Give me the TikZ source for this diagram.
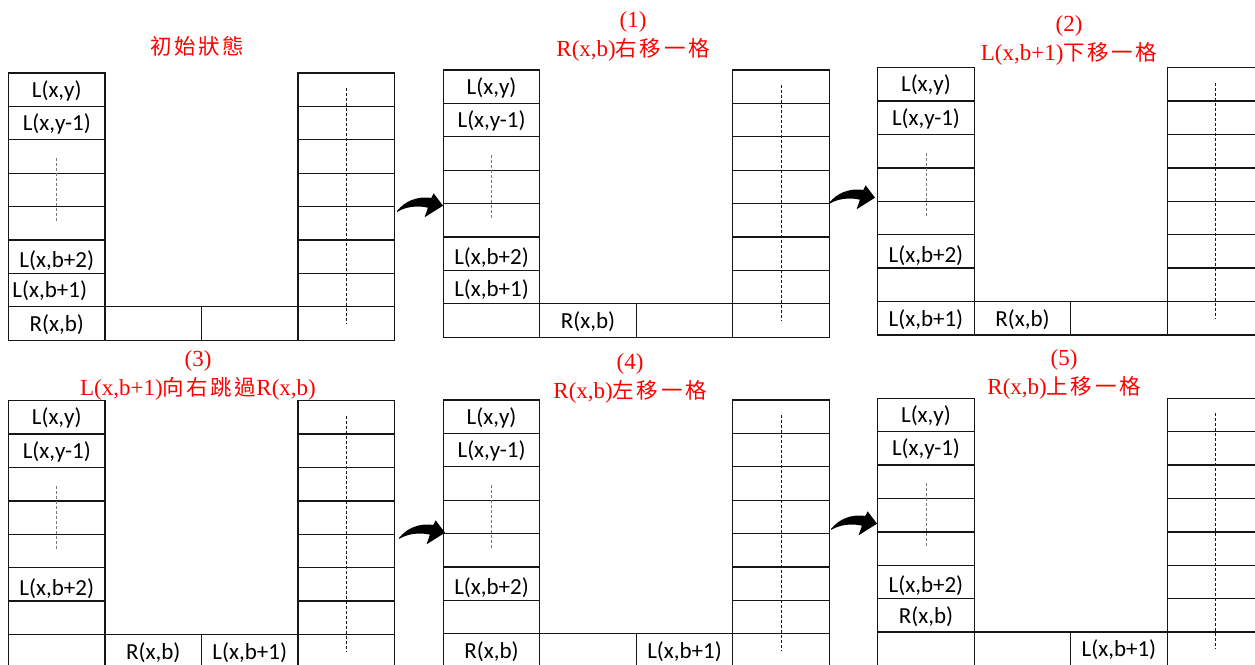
\documentclass[tikz,border=0pt]{standalone}
\usepackage{fontspec}
\newfontfamily\cellfont{Carlito}
\newfontfamily\capfont{Liberation Serif}
\newfontfamily\cjk[LetterSpace=12]{Noto Sans CJK TC}
\newcommand{\zh}[1]{{\cjk\fontsize{21.5}{29}\selectfont #1}}
\usetikzlibrary{positioning, calc}
\definecolor{stepred}{HTML}{FF0000}
\definecolor{gridline}{HTML}{161616}
\definecolor{dotgray}{HTML}{7A7A7A}
\tikzset{
  cell/.style={
    draw=gridline, line width=1.3pt, minimum width=96.5pt,
    minimum height=33.4pt, inner sep=0pt, outer sep=0pt
  },
  lbl/.style={font=\cellfont\fontsize{23}{25}\selectfont, inner sep=0pt, yshift=-1pt},
  steptitle/.style={font=\capfont\fontsize{23}{29}\selectfont, text=stepred, align=center, inner sep=0pt},
  gap/.style={dash pattern=on 3pt off 2pt, line width=0.8pt, draw=dotgray},
  gapr/.style={dash pattern=on 3pt off 2pt, line width=0.8pt, draw=gridline},
  bendarrow/.pic={
    \fill (0,0) .. controls (8,-10) and (20,-15) .. (34.3,-13.1)
      -- (36.6,-17.7) -- (46,-5.3) -- (27.6,6.3) -- (30.9,-3.3)
      .. controls (20,-6) and (8,-4) .. (0,1) -- cycle;
  },
}

\begin{document}
\begin{tikzpicture}[x=1pt, y=-1pt]
  \useasboundingbox (0,0) rectangle (1255,664);
  \clip (0,0) rectangle (1255,664);

  % Panels: number / left edge / top edge
  \foreach \n/\px/\py in {0/8.5/73, 1/443.3/70, 2/877.7/67.7,
                          3/8.5/400.7, 4/443.3/400, 5/877.7/398.3} {
    \foreach \r in {0,...,7} {
      \node[cell] (p\n-l\r) at (\px+48.25, \py+16.7+33.4*\r) {};
      \node[cell] (p\n-r\r) at (\px+337.75, \py+16.7+33.4*\r) {};
    }
    \node[cell] (p\n-b1) at (\px+144.75, \py+250.5) {};
    \node[cell] (p\n-b2) at (\px+241.25, \py+250.5) {};
    \draw[gap] ($(p\n-l2.north)+(0,18)$) -- ($(p\n-l4.south)+(0,-18)$);
    \draw[gapr] ($(p\n-r0.north)+(0,15)$) -- ($(p\n-r7.south)+(0,-17)$);
    \node[lbl] (p\n-t0) at (p\n-l0) {L(x,y)};
    \node[lbl] (p\n-t1) at (p\n-l1) {L(x,y-1)};
    \node[lbl, yshift=-3pt] (p\n-t5) at (p\n-l5) {L(x,b+2)};
  }

  % Initial state
  \node[steptitle] (t0) at (197,46) {\zh{初始狀態}};
  \node[lbl, xshift=-7pt] (p0-t6) at (p0-l6) {L(x,b+1)};
  \node[lbl] (p0-t7) at (p0-l7) {R(x,b)};

  % Step 1
  \node[steptitle] (t1) at (633,36) {(1)\\R(x,b)\zh{右移一格}};
  \node[lbl, yshift=-2pt] (p1-t6) at (p1-l6) {L(x,b+1)};
  \node[lbl] (p1-tb) at (p1-b1) {R(x,b)};

  % Step 2
  \node[steptitle] (t2) at (1069,40) {(2)\\L(x,b+1)\zh{下移一格}};
  \node[lbl] (p2-t7) at (p2-l7) {L(x,b+1)};
  \node[lbl] (p2-tb) at (p2-b1) {R(x,b)};

  % Step 3
  \node[steptitle] (t3) at (198,375) {(3)\\L(x,b+1)\zh{向右跳過}R(x,b)};
  \node[lbl] (p3-tb) at (p3-b1) {R(x,b)};
  \node[lbl] (p3-tc) at (p3-b2) {L(x,b+1)};

  % Step 4
  \node[steptitle] (t4) at (630,378) {(4)\\R(x,b)\zh{左移一格}};
  \node[lbl] (p4-t7) at (p4-l7) {R(x,b)};
  \node[lbl] (p4-tc) at (p4-b2) {L(x,b+1)};

  % Step 5
  \node[steptitle] (t5) at (1064,374) {(5)\\R(x,b)\zh{上移一格}};
  \node[lbl] (p5-t6) at (p5-l6) {R(x,b)};
  \node[lbl] (p5-tc) at (p5-b2) {L(x,b+1)};

  % Arrows between panels
  \pic at (397,211) {bendarrow};
  \pic at (829,203) {bendarrow};
  \pic at (399,538) {bendarrow};
  \pic at (831,529) {bendarrow};
\end{tikzpicture}
\end{document}
